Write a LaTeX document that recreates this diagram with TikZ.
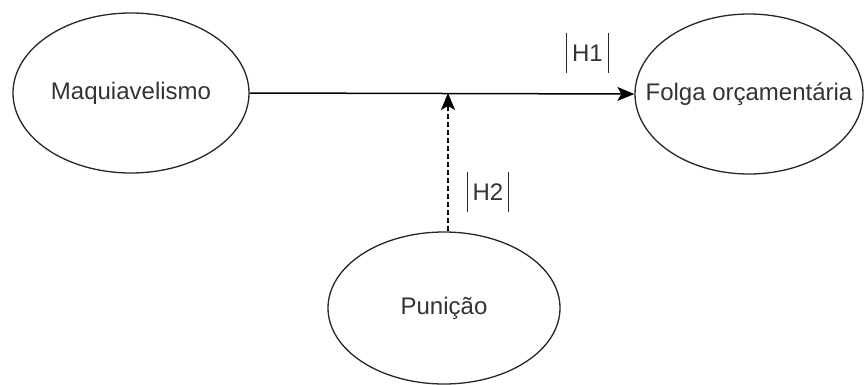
\documentclass[tikz,border=0pt]{standalone}
\usepackage{fontspec}
\setmainfont{Liberation Sans}
\usetikzlibrary{shapes.geometric,arrows.meta}

\tikzset{
  construct/.style={ellipse, draw=black!85, line width=1.3pt, inner sep=0pt,
                    label={[text=black!80, font=\fontsize{24}{28}\selectfont]center:#1}},
  hyplabel/.style={inner sep=0pt, text=black!80, font=\fontsize{24}{28}\selectfont,
                   minimum width=41pt, minimum height=40pt},
  hypbar/.style={line width=1.3pt, draw=black!85},
  link/.style={line width=1.5pt, draw=black,
               -{Stealth[length=17pt, width=14pt, inset=4pt]}},
}

\begin{document}
\begin{tikzpicture}[x=1pt, y=-1pt]
  \useasboundingbox (0,0) rectangle (864,385);

  % constructs (ellipse sized independently of the text)
  \node[construct=Maquiavelismo, minimum width=236pt, minimum height=160pt] (maq) at (131,93) {};
  \node[construct=Folga orçamentária, minimum width=228pt, minimum height=160pt] (folga) at (749,94) {};
  \node[construct=Punição, minimum width=232pt, minimum height=152pt] (pun) at (444,308) {};

  % direct effect
  \draw[link] (maq.east) -- (folga.west);

  % moderation onto the main path
  \coordinate (mod) at (448,93);
  \draw[link, dash pattern=on 5pt off 3pt] (pun.north -| mod) -- (mod);

  % hypothesis labels with side bars
  \node[hyplabel] (h1) at (587.5,53) {H1};
  \draw[hypbar] (h1.north west) -- (h1.south west);
  \draw[hypbar] (h1.north east) -- (h1.south east);

  \node[hyplabel] (h2) at (488,192) {H2};
  \draw[hypbar] (h2.north west) -- (h2.south west);
  \draw[hypbar] (h2.north east) -- (h2.south east);
\end{tikzpicture}
\end{document}
